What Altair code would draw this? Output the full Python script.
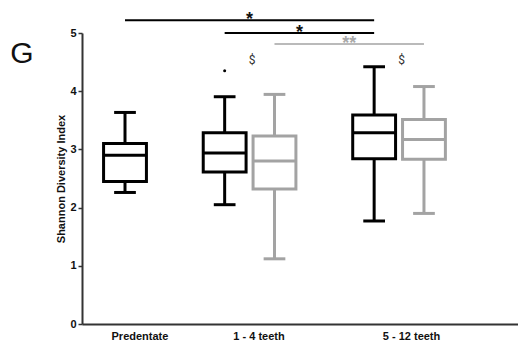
import altair as alt
import pandas as pd

# Box-plot summaries of the Shannon diversity index per group
groups = ["Predentate", "1 - 4 teeth", "1 - 4 teeth", "5 - 12 teeth", "5 - 12 teeth"]
series = ["A", "A", "B", "A", "B"]
whisker_low = [2.26, 2.05, 1.12, 1.77, 1.90]
q1 = [2.45, 2.61, 2.32, 2.84, 2.83]
median = [2.90, 2.94, 2.80, 3.285, 3.17]
q3 = [3.10, 3.285, 3.23, 3.59, 3.515]
whisker_high = [3.635, 3.905, 3.945, 4.42, 4.08]

# Outlying observation
outlier_group = ["1 - 4 teeth"]
outlier_series = ["A"]
outlier_value = [4.35]

# Significance brackets
sig_from_group = ["Predentate", "1 - 4 teeth", "1 - 4 teeth"]
sig_from_series = ["A", "A", "B"]
sig_to_group = ["5 - 12 teeth", "5 - 12 teeth", "5 - 12 teeth"]
sig_to_series = ["A", "A", "B"]
sig_label = ["*", "*", "**"]

# Groups marked with a dollar sign
dollar_groups = ["1 - 4 teeth", "5 - 12 teeth"]

x_labels = ["Predentate", "1 - 4 teeth", "5 - 12 teeth"]

# ---- layout ----
slot = {
    ("Predentate", "A"): 0,
    ("1 - 4 teeth", "A"): 2,
    ("1 - 4 teeth", "B"): 3,
    ("5 - 12 teeth", "A"): 5,
    ("5 - 12 teeth", "B"): 6,
}
group_center = {"Predentate": 0.0, "1 - 4 teeth": 2.5, "5 - 12 teeth": 5.5}
label_pos = {"Predentate": 0.29, "1 - 4 teeth": 2.68, "5 - 12 teeth": 5.74}
bracket_y = [5.22, 5.0, 4.81]
dollar_y = 4.535
box_half = 0.43
cap_half = 0.218

FONT = "Liberation Sans"
BLACK = "#000000"
GREY = "#a3a3a3"

boxes = pd.DataFrame({
    "group": groups, "series": series,
    "low": whisker_low, "q1": q1, "median": median, "q3": q3, "high": whisker_high,
})
boxes["pos"] = [slot[(g, s)] for g, s in zip(groups, series)]
boxes["lo"] = boxes["pos"] - box_half
boxes["hi"] = boxes["pos"] + box_half
boxes["cap_lo"] = boxes["pos"] - cap_half
boxes["cap_hi"] = boxes["pos"] + cap_half

outliers = pd.DataFrame({"group": outlier_group, "series": outlier_series, "value": outlier_value})
outliers["pos"] = [slot[(g, s)] for g, s in zip(outlier_group, outlier_series)]

sig = pd.DataFrame({
    "label": sig_label, "series": sig_from_series,
    "x1": [slot[(g, s)] for g, s in zip(sig_from_group, sig_from_series)],
    "x2": [slot[(g, s)] for g, s in zip(sig_to_group, sig_to_series)],
    "y": bracket_y,
})
sig["mid"] = (sig["x1"] + sig["x2"]) / 2

dollars = pd.DataFrame({"group": dollar_groups, "sym": ["$"] * len(dollar_groups)})
dollars["pos"] = [group_center[g] + 0.05 for g in dollar_groups]
dollars["y"] = dollar_y

label_values = [label_pos[g] for g in x_labels]
label_expr = ("datum.value < 1 ? 'Predentate' : "
              "datum.value < 4 ? '1 - 4 teeth' : '5 - 12 teeth'")

x_scale = alt.Scale(domain=[-0.863, 7.887], nice=False, zero=False)
y_scale = alt.Scale(domain=[0, 5], nice=False, zero=True)

x_axis = alt.Axis(
    values=label_values, labelExpr=label_expr, ticks=False, grid=False, title=None,
    domainWidth=2, domainColor="#333333", labelFontWeight="bold", labelFontSize=11,
    labelFont=FONT, labelColor="#111111", labelPadding=6, labelOverlap=False,
    labelBound=False, labelFlush=False,
)
y_axis = alt.Axis(
    values=[0, 1, 2, 3, 4, 5], format="d", grid=False, tickSize=4, tickWidth=1.5,
    tickColor="#333333", domainWidth=2, domainColor="#333333",
    labelFontWeight="bold", labelFontSize=11, labelFont=FONT, labelColor="#111111",
    labelPadding=2, title="Shannon Diversity Index", titleFontWeight="bold",
    titleFontSize=11, titleFont=FONT, titleColor="#111111", titlePadding=3,
)


def X(field):
    return alt.X(f"{field}:Q", scale=x_scale, axis=x_axis)


def Y(field):
    return alt.Y(f"{field}:Q", scale=y_scale, axis=y_axis)


series_scale = alt.Scale(domain=["A", "B"], range=[BLACK, GREY])
color = alt.Color("series:N", scale=series_scale, legend=None)

base = alt.Chart(boxes)

whisker_up = base.mark_rule(strokeWidth=3).encode(x=X("pos"), y=Y("q3"), y2="high:Q", color=color)
whisker_dn = base.mark_rule(strokeWidth=3).encode(x=X("pos"), y=Y("low"), y2="q1:Q", color=color)
cap_up = base.mark_rule(strokeWidth=3).encode(x=X("cap_lo"), x2="cap_hi:Q", y=Y("high"), color=color)
cap_dn = base.mark_rule(strokeWidth=3).encode(x=X("cap_lo"), x2="cap_hi:Q", y=Y("low"), color=color)
box = base.mark_rect(fill="white", strokeWidth=3).encode(
    x=X("lo"), x2="hi:Q", y=Y("q1"), y2="q3:Q",
    stroke=alt.Stroke("series:N", scale=series_scale, legend=None),
)
med = base.mark_rule(strokeWidth=3).encode(x=X("lo"), x2="hi:Q", y=Y("median"), color=color)

dots = alt.Chart(outliers).mark_circle(size=9, opacity=1).encode(x=X("pos"), y=Y("value"), color=color)

sig_lines = alt.Chart(sig).mark_rule().encode(
    x=X("x1"), x2="x2:Q", y=Y("y"),
    color=alt.Color("series:N", scale=alt.Scale(domain=["A", "B"], range=["#3a3a3a", "#9a9a9a"]), legend=None),
    strokeWidth=alt.StrokeWidth("series:N", scale=alt.Scale(domain=["A", "B"], range=[2, 1.5]), legend=None),
)
sig_text = alt.Chart(sig).mark_text(font=FONT, fontSize=18, fontWeight="bold", baseline="alphabetic", dy=5).encode(
    x=X("mid"), y=Y("y"), text="label:N",
    fill=alt.Fill("series:N", scale=alt.Scale(domain=["A", "B"], range=["#111111", "#a8a8a8"]), legend=None),
)

dollar_text = alt.Chart(dollars).mark_text(font="Roboto", fontSize=12, baseline="middle").encode(
    x=X("pos"), y=Y("y"), text="sym:N", fill=alt.value("#333333")
)

panel = alt.Chart(pd.DataFrame({"t": ["G"]})).mark_text(
    font=FONT, fontSize=30, baseline="middle", align="center"
).encode(text="t:N", x=alt.value(-60), y=alt.value(21), fill=alt.value("#111111"))

chart = alt.layer(
    whisker_up, whisker_dn, cap_up, cap_dn, box, med, dots,
    sig_lines, sig_text, dollar_text, panel,
).properties(
    width=436, height=291,
    background="white",
    autosize=alt.AutoSizeParams(type="none"),
    padding={"left": 82, "top": 33, "right": 0, "bottom": 19},
).configure_view(stroke=None)

chart.save("out.html", embed_options={"renderer": "svg", "actions": False})
